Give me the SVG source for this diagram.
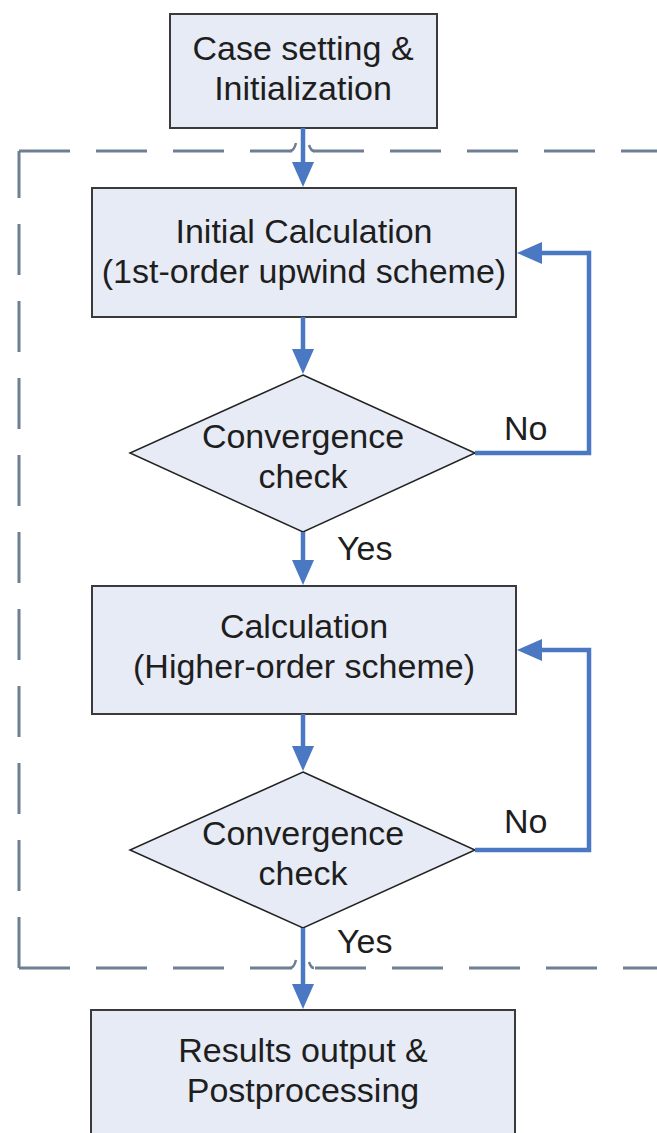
<svg xmlns="http://www.w3.org/2000/svg" width="657" height="1133" viewBox="0 0 657 1133">
<style>
.box{fill:#e7ebf5;stroke:#3a3a3a;stroke-width:2}
.dia{fill:#e7ebf5;stroke:#222;stroke-width:1.5}
.t{font-family:"Liberation Sans",Arial,sans-serif;font-size:34px;fill:#1e1e1e;text-anchor:middle}
.lbl{font-family:"Liberation Sans",Arial,sans-serif;font-size:34px;fill:#1e1e1e}
.dash{fill:none;stroke:#6e7f94;stroke-width:3;stroke-dasharray:51 26}
.hook{fill:none;stroke:#6e7f94;stroke-width:2.5}
.con{fill:none;stroke:#4a78c2;stroke-width:4.5;marker-end:url(#ah)}
</style>
<defs>
<marker id="ah" markerUnits="userSpaceOnUse" markerWidth="26" markerHeight="24" refX="15" refY="12" orient="auto">
<path d="M0,1 L25,12 L0,23 z" fill="#4a78c2"/>
</marker>
</defs>
<rect width="657" height="1133" fill="#fff"/>
<g id="boundary">
<path class="dash" d="M19,968 V151"/>
<path class="dash" d="M19,151 H292"/>
<path class="hook" d="M290,151 Q294,151 296,143"/>
<path class="hook" d="M309,145 Q311,151 314,151"/>
<path class="dash" d="M313,151 H680"/>
<path class="dash" d="M19,968 H292"/>
<path class="hook" d="M290,968 Q294,968 296,960"/>
<path class="hook" d="M309,962 Q311,968 314,968"/>
<path class="dash" d="M315,968 H680"/>
</g>
<g id="n1">
<rect class="box" x="170" y="14" width="267" height="114"/>
<text class="t" x="303" y="60">Case setting &amp;</text>
<text class="t" x="303" y="100">Initialization</text>
</g>
<g id="n2">
<rect class="box" x="92" y="188" width="424" height="129"/>
<text class="t" x="304" y="243">Initial Calculation</text>
<text class="t" x="304" y="283">(1st-order upwind scheme)</text>
</g>
<g id="n3">
<polygon class="dia" points="303,375 475,453 303,532 130,453"/>
<text class="t" x="303" y="448">Convergence</text>
<text class="t" x="303" y="488">check</text>
</g>
<g id="n4">
<rect class="box" x="92" y="586" width="424" height="128"/>
<text class="t" x="304" y="638">Calculation</text>
<text class="t" x="304" y="678">(Higher-order scheme)</text>
</g>
<g id="n5">
<polygon class="dia" points="303,772 475,850 303,928 130,850"/>
<text class="t" x="303" y="845">Convergence</text>
<text class="t" x="303" y="885">check</text>
</g>
<g id="n6">
<rect class="box" x="91" y="1010" width="424" height="128"/>
<text class="t" x="303" y="1062">Results output &amp;</text>
<text class="t" x="303" y="1102">Postprocessing</text>
</g>
<g id="connectors">
<path class="con" d="M303,128 V177"/>
<path class="con" d="M303,317 V364"/>
<path class="con" d="M303,532 V575"/>
<path class="con" d="M303,714 V761"/>
<path class="con" d="M303,928 V999"/>
<path class="con" d="M475,453 H589 V253 H527"/>
<path class="con" d="M475,850 H589 V650 H527"/>
<text class="lbl" x="504" y="440">No</text>
<text class="lbl" x="337" y="560">Yes</text>
<text class="lbl" x="504" y="833">No</text>
<text class="lbl" x="337" y="953">Yes</text>
</g>
</svg>
